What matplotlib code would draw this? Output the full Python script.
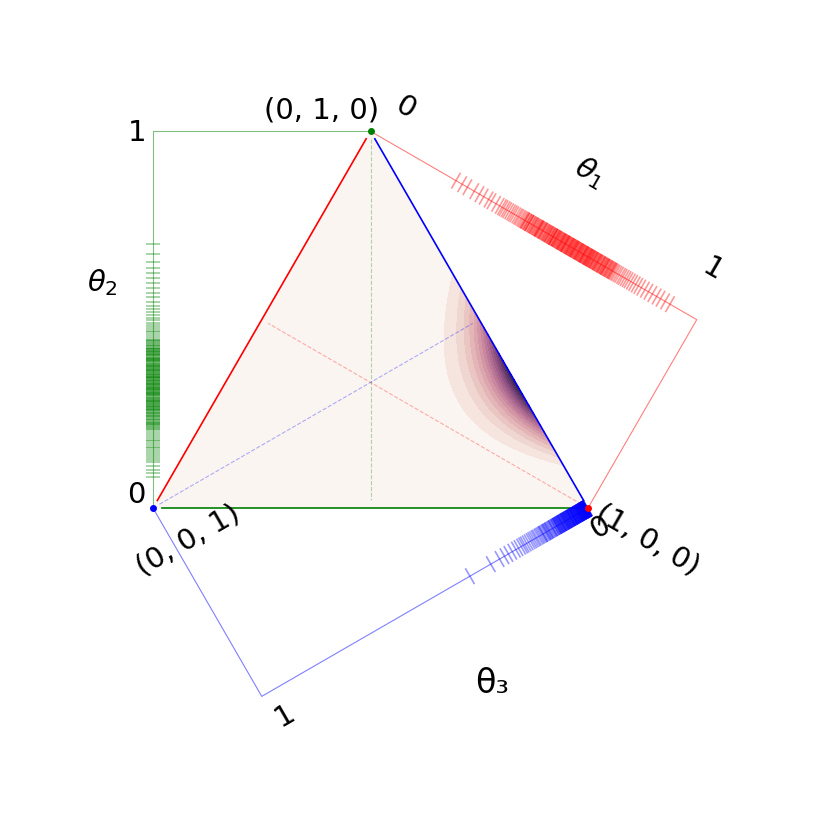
import numpy as np
import matplotlib
matplotlib.use("Agg")
import matplotlib.pyplot as plt
import matplotlib.tri as mtri
from matplotlib.collections import LineCollection
import seaborn as sns
from math import gamma

# Dirichlet parameters of the density drawn in the simplex
alpha = [12.0, 6.5, 1.0]

# rug samples along each axis
theta1 = [0.262, 0.281, 0.297, 0.318, 0.334, 0.347, 0.362, 0.371, 0.385, 0.396,
          0.403, 0.408, 0.414, 0.419, 0.425, 0.431, 0.436, 0.441, 0.447, 0.452,
          0.456, 0.461, 0.465, 0.469, 0.472, 0.475, 0.479, 0.483, 0.486, 0.488,
          0.492, 0.497, 0.499, 0.503, 0.506, 0.511, 0.513, 0.516, 0.519, 0.524,
          0.526, 0.529, 0.534, 0.536, 0.538, 0.542, 0.547, 0.549, 0.552, 0.555,
          0.559, 0.561, 0.565, 0.568, 0.571, 0.574, 0.578, 0.580, 0.583, 0.587,
          0.589, 0.593, 0.596, 0.599, 0.603, 0.605, 0.608, 0.612, 0.614, 0.617,
          0.621, 0.623, 0.626, 0.629, 0.633, 0.636, 0.638, 0.642, 0.645, 0.649,
          0.651, 0.654, 0.657, 0.661, 0.663, 0.666, 0.670, 0.673, 0.676, 0.679,
          0.683, 0.685, 0.688, 0.692, 0.695, 0.698, 0.702, 0.705, 0.708, 0.712,
          0.715, 0.718, 0.722, 0.725, 0.729, 0.733, 0.736, 0.740, 0.744, 0.748,
          0.752, 0.757, 0.762, 0.768, 0.773, 0.779, 0.785, 0.791, 0.798, 0.805,
          0.813, 0.821, 0.830, 0.841, 0.852, 0.864, 0.877, 0.889, 0.903, 0.918,
          0.501, 0.517, 0.531, 0.544, 0.557, 0.569, 0.582, 0.594, 0.607, 0.619,
          0.631, 0.644, 0.656, 0.668, 0.681, 0.693, 0.706, 0.719, 0.731,
          0.474, 0.481, 0.487, 0.494, 0.508, 0.515, 0.521, 0.528, 0.540, 0.546,
          0.553, 0.560, 0.566, 0.572, 0.576, 0.585, 0.591, 0.597, 0.601, 0.610,
          0.616, 0.622, 0.627, 0.635, 0.640, 0.647, 0.653, 0.659, 0.664, 0.671,
          0.677, 0.684, 0.689, 0.696, 0.700, 0.709, 0.714, 0.720, 0.727, 0.738,
          0.742, 0.561, 0.598, 0.625, 0.652, 0.674, 0.611, 0.639, 0.586, 0.667]
theta2 = [0.081, 0.092, 0.101, 0.112, 0.121, 0.128, 0.134, 0.139, 0.144, 0.149,
          0.154, 0.158, 0.163, 0.168, 0.172, 0.177, 0.181, 0.186, 0.191, 0.196,
          0.201, 0.206, 0.211, 0.213, 0.217, 0.219, 0.224, 0.226, 0.229, 0.233,
          0.234, 0.238, 0.241, 0.243, 0.247, 0.249, 0.253, 0.255, 0.259, 0.262,
          0.264, 0.268, 0.270, 0.273, 0.277, 0.279, 0.282, 0.286, 0.288, 0.291,
          0.295, 0.297, 0.300, 0.304, 0.306, 0.309, 0.313, 0.315, 0.318, 0.322,
          0.324, 0.327, 0.331, 0.333, 0.336, 0.340, 0.342, 0.345, 0.349, 0.351,
          0.354, 0.358, 0.360, 0.363, 0.367, 0.369, 0.372, 0.376, 0.378, 0.381,
          0.385, 0.387, 0.390, 0.394, 0.396, 0.399, 0.403, 0.405, 0.408, 0.412,
          0.414, 0.417, 0.421, 0.423, 0.426, 0.430, 0.433, 0.436, 0.440, 0.443,
          0.447, 0.452, 0.457, 0.461, 0.466, 0.471, 0.476, 0.481, 0.487, 0.492,
          0.498, 0.505, 0.512, 0.520, 0.528, 0.537, 0.548, 0.559, 0.571, 0.584,
          0.597, 0.611, 0.624, 0.638, 0.652, 0.673, 0.702,
          0.251, 0.266, 0.284, 0.302, 0.319, 0.338, 0.356, 0.374, 0.392, 0.409,
          0.215, 0.222, 0.228, 0.236, 0.245, 0.257, 0.261, 0.272, 0.275, 0.281,
          0.290, 0.293, 0.299, 0.308, 0.311, 0.317, 0.326, 0.329, 0.335, 0.344,
          0.347, 0.353, 0.362, 0.365, 0.371, 0.380, 0.383, 0.389, 0.398, 0.401,
          0.407, 0.416, 0.419, 0.425, 0.431, 0.438, 0.445, 0.303, 0.321, 0.339,
          0.357, 0.377, 0.395, 0.413, 0.285, 0.267, 0.348, 0.366, 0.330, 0.312]
theta3 = [0.001, 0.001, 0.002, 0.003, 0.003, 0.004, 0.005, 0.006, 0.006, 0.007,
          0.008, 0.009, 0.010, 0.010, 0.011, 0.012, 0.013, 0.014, 0.015, 0.016,
          0.017, 0.018, 0.019, 0.020, 0.021, 0.022, 0.023, 0.024, 0.025, 0.027,
          0.028, 0.029, 0.030, 0.031, 0.032, 0.034, 0.035, 0.037, 0.038, 0.040,
          0.041, 0.043, 0.044, 0.046, 0.047, 0.049, 0.050, 0.052, 0.053, 0.055,
          0.057, 0.058, 0.060, 0.062, 0.063, 0.065, 0.067, 0.069, 0.071, 0.073,
          0.075, 0.077, 0.079, 0.081, 0.083, 0.085, 0.088, 0.090, 0.092, 0.095,
          0.097, 0.100, 0.103, 0.106, 0.109, 0.112, 0.115, 0.118, 0.122, 0.125,
          0.129, 0.132, 0.136, 0.140, 0.144, 0.148, 0.152, 0.157, 0.161, 0.166,
          0.171, 0.176, 0.182, 0.188, 0.194, 0.199, 0.205, 0.213, 0.221, 0.232,
          0.244, 0.256, 0.271, 0.298, 0.362,
          0.004, 0.009, 0.013, 0.018, 0.026, 0.033, 0.039, 0.045, 0.051, 0.056,
          0.064, 0.072, 0.080, 0.087, 0.094, 0.101, 0.108, 0.120, 0.127, 0.138,
          0.002, 0.005, 0.007, 0.008, 0.011, 0.012, 0.014, 0.016, 0.019, 0.021,
          0.024, 0.026, 0.029, 0.032, 0.036, 0.039, 0.042, 0.045, 0.048, 0.054,
          0.059, 0.061, 0.066, 0.070, 0.074, 0.078, 0.082, 0.086, 0.091, 0.096,
          0.003, 0.006, 0.009, 0.015, 0.022, 0.028, 0.035, 0.044, 0.052, 0.068]

corner_labels = ["(1, 0, 0)", "(0, 1, 0)", "(0, 0, 1)"]
axis_labels = [r"$\theta_1$", r"$\theta_2$", "θ₃"]
colors = ["red", "green", "blue"]

# =================================================================================================

s = np.sqrt(3) / 2
A = np.array([1.0, 0.0])   # theta1 = 1
B = np.array([0.5, s])     # theta2 = 1
C = np.array([0.0, 0.0])   # theta3 = 1

fig = plt.figure(figsize=(8.3, 8.3), dpi=100)
ax = fig.add_axes([0, 0, 1, 1])
ax.set_xlim(-153 / 435, 677 / 435)
ax.set_ylim(-322 / 435, 508 / 435)
ax.set_aspect("equal")
ax.axis("off")

# density
tri = mtri.Triangulation([C[0], A[0], B[0]], [C[1], A[1], B[1]])
mesh = mtri.UniformTriRefiner(tri).refine_triangulation(subdiv=7)
t2 = mesh.y / s
t1 = mesh.x - 0.5 * t2
t3 = 1 - t1 - t2
th = np.clip(np.vstack([t1, t2, t3]), 1e-9, 1)
norm = gamma(sum(alpha)) / np.prod([gamma(a) for a in alpha])
pdf = norm * np.prod([th[i] ** (alpha[i] - 1) for i in range(3)], axis=0)
cmap = sns.cubehelix_palette(light=0.985, dark=0.15, as_cmap=True)
ax.tricontourf(mesh, pdf, levels=20, cmap=cmap)

# triangle edges (colour = component that is zero on that edge)
def seg(p, q, a=0.02, b=0.98):
    return [p + a * (q - p), p + b * (q - p)]

for (p, q), c in [((C, B), "red"), ((C, A), "green"), ((A, B), "blue")]:
    pts = np.array(seg(p, q))
    ax.plot(pts[:, 0], pts[:, 1], color=c, lw=1.2)

# medians
for (p, q), c in [((A, (B + C) / 2), "red"), ((B, (A + C) / 2), "green"), ((C, (A + B) / 2), "blue")]:
    pts = np.array(seg(p, q))
    ax.plot(pts[:, 0], pts[:, 1], color=c, lw=0.8, ls="--", alpha=0.3)

# side axes: start, direction, normal, connector target, rug values, tick half length
h = s
axes_def = [
    (B, np.array([s, -0.5]), np.array([0.5, s]), A, theta1, 0.021),
    (C, np.array([0.0, 1.0]), np.array([1.0, 0.0]), B, theta2, 0.016),
    (A, np.array([-s, -0.5]), np.array([-0.5, s]), C, theta3, 0.021),
]
for (start, d, n, target, vals, hl), c in zip(axes_def, colors):
    end = start + h * d
    ax.plot([start[0], end[0], target[0]], [start[1], end[1], target[1]], color=c, lw=0.8, alpha=0.5)
    segs = [[start + v * h * d - hl * n, start + v * h * d + hl * n] for v in vals]
    ax.add_collection(LineCollection(segs, colors=c, alpha=0.4, lw=1.2))

# corner dots
for p, c in zip([A, B, C], colors):
    ax.plot(p[0], p[1], "o", color=c, ms=4, zorder=5)

fs = 21
ax.text(0.3885, 0.9149, corner_labels[1], fontsize=fs, ha="center", va="center")
ax.text(1.1379, -0.0736, corner_labels[0], fontsize=fs, ha="center", va="center", rotation=-30)
ax.text(0.0805, -0.0736, corner_labels[2], fontsize=fs, ha="center", va="center", rotation=30)

ax.text(1.0046, 0.7724, axis_labels[0], fontsize=fs, ha="center", va="center", rotation=-30)
ax.text(-0.1172, 0.5172, axis_labels[1], fontsize=fs, ha="center", va="center")
ax.text(0.7793, -0.4023, axis_labels[2], fontsize=24, ha="center", va="center")

# axis end labels
ax.text(0.5793, 0.9195, "0", fontsize=fs, ha="center", va="center", rotation=-30)
ax.text(1.2874, 0.5471, "1", fontsize=fs, ha="center", va="center", rotation=-30)
ax.text(-0.0391, 0.0299, "0", fontsize=fs, ha="center", va="center")
ax.text(-0.0368, 0.8621, "1", fontsize=fs, ha="center", va="center")
ax.text(1.0276, -0.0437, "0", fontsize=fs, ha="center", va="center", rotation=30)
ax.text(0.3034, -0.4759, "1", fontsize=fs, ha="center", va="center", rotation=30)

fig.savefig("out.png", dpi=100)
